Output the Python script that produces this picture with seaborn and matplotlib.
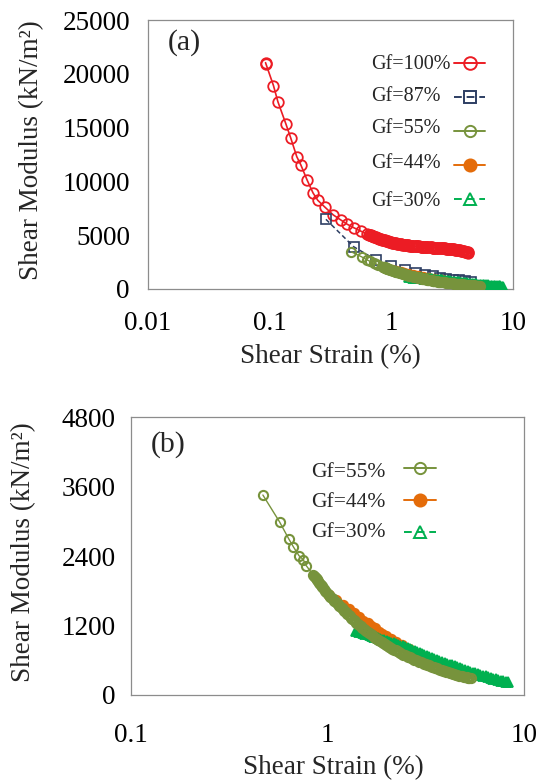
import matplotlib
matplotlib.use("Agg")
import matplotlib.pyplot as plt
import seaborn as sns
import pandas as pd
from matplotlib.lines import Line2D
from matplotlib.ticker import MultipleLocator, LogLocator, FixedLocator, FixedFormatter, NullFormatter

# ---------------- data ----------------
gf100_x = [0.0925, 0.093, 0.1075, 0.1168, 0.136, 0.1487, 0.167, 0.1805, 0.2036, 0.2274, 0.2487,
           0.2837, 0.3335, 0.385, 0.4305, 0.4903, 0.558,
           0.636, 0.650, 0.662, 0.675, 0.688, 0.700, 0.713, 0.726, 0.740, 0.754, 0.768, 0.782,
           0.797, 0.812, 0.828, 0.843, 0.859, 0.876, 0.892, 0.909, 0.927, 0.944, 0.962, 0.980,
           1.00, 1.02, 1.04, 1.06, 1.08, 1.10, 1.12, 1.14, 1.16, 1.19, 1.21, 1.23, 1.26, 1.28,
           1.31, 1.33, 1.36, 1.38, 1.41, 1.44, 1.46, 1.49, 1.52, 1.55, 1.58, 1.61, 1.64, 1.67,
           1.70, 1.74, 1.77, 1.80, 1.84, 1.87, 1.91, 1.94, 1.98, 2.02, 2.06, 2.10, 2.14, 2.18,
           2.22, 2.26, 2.31, 2.35, 2.40, 2.44, 2.49, 2.54, 2.59, 2.64, 2.69, 2.74, 2.79, 2.85,
           2.90, 2.96, 3.01, 3.07, 3.13, 3.19, 3.25, 3.31, 3.38, 3.44, 3.51, 3.58, 3.64, 3.72,
           3.79, 3.86, 3.93, 4.01, 4.09, 4.17, 4.25, 4.30]
gf100_y = [21035, 20950, 18900, 17410, 15335, 14065, 12300, 11525, 10100, 8920, 8240,
           7620, 6880, 6410, 6040, 5700, 5390,
           5080, 5050, 5010, 4980, 4950, 4910, 4880, 4850, 4820, 4790, 4760, 4720,
           4690, 4660, 4630, 4600, 4570, 4540, 4510, 4480, 4450, 4420, 4400, 4370,
           4340, 4320, 4290, 4270, 4250, 4230, 4210, 4190, 4170, 4160, 4140, 4130, 4110, 4100,
           4090, 4080, 4060, 4050, 4040, 4030, 4020, 4010, 4000, 3990, 3980, 3975, 3965, 3955,
           3950, 3940, 3935, 3930, 3920, 3915, 3905, 3900, 3890, 3885, 3875, 3870, 3860, 3855,
           3845, 3840, 3830, 3825, 3815, 3810, 3800, 3795, 3785, 3780, 3770, 3765, 3755, 3745,
           3740, 3730, 3720, 3710, 3700, 3690, 3675, 3665, 3650, 3635, 3620, 3605, 3590, 3570,
           3550, 3530, 3505, 3480, 3455, 3425, 3395, 3380]

gf87_x = [0.29, 0.49, 0.75, 1.0, 1.3, 1.6, 1.9, 2.2, 2.5, 2.8, 3.2, 3.6, 4.0, 4.5]
gf87_y = [6475, 3930, 2700, 2100, 1750, 1500, 1320, 1180, 1060, 960, 870, 790, 720, 640]

gf55_x = [0.469, 0.570, 0.636, 0.670, 0.716, 0.753, 0.779,
          0.847, 0.856, 0.865, 0.873, 0.880, 0.888, 0.895, 0.906, 0.915, 0.925, 0.933, 0.942,
          0.955, 0.970, 0.985, 1.000, 1.015, 1.030, 1.048, 1.067, 1.083, 1.100, 1.115, 1.130,
          1.150, 1.170, 1.185, 1.200, 1.220, 1.240, 1.260, 1.280, 1.300, 1.320, 1.340, 1.360,
          1.380, 1.400, 1.425, 1.450, 1.475, 1.500, 1.525, 1.550, 1.575, 1.600, 1.630, 1.660,
          1.690, 1.720, 1.750, 1.780, 1.815, 1.850, 1.885, 1.920, 1.955, 1.990, 2.025, 2.060,
          2.100, 2.140, 2.180, 2.220, 2.260, 2.300, 2.345, 2.390, 2.435, 2.480, 2.525, 2.570,
          2.620, 2.670, 2.720, 2.770, 2.825, 2.880, 2.935, 2.990, 3.045, 3.100, 3.160, 3.220,
          3.280, 3.340, 3.405, 3.470, 3.535, 3.600, 3.670, 3.740, 3.810, 3.880, 3.955, 4.030,
          4.105, 4.180, 4.260, 4.340, 4.420, 4.500, 4.585, 4.670, 4.760, 4.850, 4.940, 5.030,
          5.115, 5.200, 5.275, 5.350]
gf55_y = [3453, 2990, 2692, 2560, 2405, 2337, 2234,
          2073, 2055, 2040, 2020, 2005, 1985, 1970, 1936, 1920, 1900, 1880, 1861,
          1830, 1800, 1775, 1752, 1725, 1700, 1675, 1650, 1625, 1600, 1580, 1563,
          1540, 1520, 1495, 1478, 1455, 1430, 1405, 1380, 1357, 1335, 1312, 1290,
          1270, 1250, 1228, 1205, 1185, 1165, 1148, 1130, 1112, 1090, 1070, 1050,
          1030, 1010, 992, 975, 955, 935, 918, 900, 882, 865, 848, 830,
          815, 800, 785, 770, 755, 740, 725, 710, 697, 685, 672, 660,
          648, 635, 622, 610, 597, 585, 574, 563, 551, 540, 530, 520,
          510, 500, 490, 480, 470, 460, 450, 440, 430, 420, 412, 403,
          394, 385, 376, 368, 359, 350, 342, 335, 327, 320, 314, 308,
          303, 298, 295, 292]

gf44_x = [1.02, 1.10, 1.20, 1.28, 1.37, 1.45, 1.52, 1.60, 1.67, 1.74, 1.82, 1.90, 1.99,
          2.10, 2.24, 2.40, 2.60]
gf44_y = [1730, 1640, 1555, 1480, 1410, 1340, 1280, 1238, 1190, 1150, 1090, 1050, 1020,
          970, 920, 860, 800]

gf30_x = [1.40, 1.44, 1.48, 1.52, 1.56, 1.60, 1.64, 1.68, 1.72, 1.76, 1.80, 1.85, 1.90, 1.95,
          2.00, 2.05, 2.11, 2.17, 2.23, 2.29, 2.35, 2.42, 2.49, 2.56, 2.63, 2.70, 2.78, 2.86,
          2.94, 3.02, 3.11, 3.20, 3.30, 3.40, 3.50, 3.60, 3.71, 3.82, 3.94, 4.06, 4.18, 4.31,
          4.44, 4.58, 4.72, 4.86, 5.01, 5.16, 5.32, 5.48, 5.65, 5.82, 6.00, 6.18, 6.37, 6.56,
          6.76, 6.97, 7.18, 7.40, 7.62, 7.85, 8.08, 8.30]
gf30_y = [1100, 1090, 1080, 1068, 1058, 1048, 1035, 1022, 1010, 998, 986, 972, 958, 944,
          930, 918, 904, 890, 877, 865, 852, 838, 823, 808, 793, 778, 762, 746,
          730, 714, 697, 680, 662, 644, 627, 610, 593, 576, 559, 542, 526, 510,
          494, 478, 462, 447, 432, 417, 402, 388, 374, 360, 346, 333, 320, 307,
          295, 283, 271, 259, 248, 237, 226, 216]

ticks_a_x = [0.01, 0.1, 1, 10]
ticks_a_y = [0, 5000, 10000, 15000, 20000, 25000]
ticks_b_x = [0.1, 1, 10]
ticks_b_y = [0, 1200, 2400, 3600, 4800]

labels_a = ["Gf=100%", "Gf=87%", "Gf=55%", "Gf=44%", "Gf=30%"]
labels_b = ["Gf=55%", "Gf=44%", "Gf=30%"]

# ---------------- styles ----------------
RED = "#ec1c24"
NAVY = "#2d3e63"
OLIVE = "#77933c"
ORANGE = "#e46c0a"
GREEN = "#00b050"
SPINE = "#8c8c8c"

styles = {
    "Gf=100%": dict(color=RED, marker="o", ms=7.6, mfc="none", mec=RED, mew=1.3, ls="-", lw=1.2, z=2,
                    key_mfc="none"),
    "Gf=87%": dict(color=NAVY, marker="s", ms=7.0, mfc="none", mec=NAVY, mew=1.2, ls=(0, (3, 2)), lw=1.1, z=3,
                   key_mfc="none"),
    "Gf=44%": dict(color=ORANGE, marker="o", ms=7.2, mfc=ORANGE, mec=ORANGE, mew=1.0, ls="-", lw=1.1, z=4,
                   key_mfc=ORANGE),
    "Gf=30%": dict(color=GREEN, marker="^", ms=6.5, mfc=GREEN, mec=GREEN, mew=1.3, ls=(0, (3, 2)), lw=1.1, z=5,
                   key_mfc="none"),
    "Gf=55%": dict(color=OLIVE, marker="o", ms=6.6, mfc="none", mec=OLIVE, mew=1.5, ls="-", lw=1.0, z=6,
                   key_mfc="none"),
}
series = {
    "Gf=100%": (gf100_x, gf100_y),
    "Gf=87%": (gf87_x, gf87_y),
    "Gf=55%": (gf55_x, gf55_y),
    "Gf=44%": (gf44_x, gf44_y),
    "Gf=30%": (gf30_x, gf30_y),
}

sns.set_style("white")
plt.rcParams["font.family"] = ["Liberation Serif", "DejaVu Serif"]

fig = plt.figure(figsize=(5.44, 7.8), dpi=100)
axA = fig.add_axes([148 / 544, 1 - 289 / 780, 365 / 544, 269 / 780])
axB = fig.add_axes([131 / 544, 1 - 695 / 780, 393 / 544, 278 / 780])


def draw(ax, names):
    for name in ["Gf=100%", "Gf=87%", "Gf=44%", "Gf=30%", "Gf=55%"]:
        if name not in names:
            continue
        s = styles[name]
        x, y = series[name]
        df = pd.DataFrame({"x": x, "y": y})
        sns.lineplot(data=df, x="x", y="y", ax=ax, sort=False, estimator=None,
                     color=s["color"], marker=s["marker"], markersize=s["ms"],
                     markerfacecolor=s["mfc"], markeredgecolor=s["mec"],
                     markeredgewidth=s["mew"], linestyle=s["ls"], linewidth=s["lw"],
                     zorder=s["z"])


def style_axes(ax, xlim, xticks, xlabels, ylim, yticks, yminor, xpad, ypad):
    ax.set_xscale("log")
    ax.set_xlim(*xlim)
    ax.set_ylim(*ylim)
    ax.xaxis.set_major_locator(FixedLocator(xticks))
    ax.xaxis.set_major_formatter(FixedFormatter(xlabels))
    ax.xaxis.set_minor_locator(LogLocator(base=10, subs=[2, 3, 4, 5, 6, 7, 8, 9]))
    ax.xaxis.set_minor_formatter(NullFormatter())
    ax.yaxis.set_major_locator(FixedLocator(yticks))
    ax.yaxis.set_minor_locator(MultipleLocator(yminor))
    ax.tick_params(axis="both", which="both", direction="in", top=False, right=False,
                   color=SPINE, width=0.8, labelsize=19.5, labelcolor="black")
    ax.tick_params(axis="x", which="major", length=6, pad=xpad)
    ax.tick_params(axis="x", which="minor", length=4.5)
    ax.tick_params(axis="y", which="both", length=5, pad=ypad)
    for sp in ax.spines.values():
        sp.set_color(SPINE)
        sp.set_linewidth(0.9)
        sp.set_visible(True)
    ax.set_facecolor("white")


draw(axA, labels_a)
draw(axB, labels_b)

style_axes(axA, (0.01, 10), ticks_a_x, ["0.01", "0.1", "1", "10"], (0, 25000),
           ticks_a_y, 1000, 16, 13)
style_axes(axB, (0.1, 10), ticks_b_x, ["0.1", "1", "10"], (0, 4800),
           ticks_b_y, 240, 20, 11)

for ax, xl, yl in [(axA, (0.5, -0.253), (-0.32, 0.517)), (axB, (0.515, -0.263), (-0.272, 0.513))]:
    ax.set_xlabel("Shear Strain (%)", fontsize=19.5, va="center")
    ax.set_ylabel("Shear Modulus (kN/m\u00b2)", fontsize=19.5, va="center", ha="center")
    ax.xaxis.set_label_coords(*xl)
    ax.yaxis.set_label_coords(*yl)

axA.text(0.099, 0.915, "(a)", transform=axA.transAxes, fontsize=21.5, ha="center", va="center")
axB.text(0.095, 0.90, "(b)", transform=axB.transAxes, fontsize=21.5, ha="center", va="center")


def legend_keys(names):
    hs = []
    for name in names:
        s = styles[name]
        ls = s["ls"]
        if ls != "-":
            ls = (0, (4, 2.5))
        hs.append(Line2D([], [], color=s["color"], marker=s["marker"], markersize=s["ms"] + 1.5,
                         markerfacecolor=s["key_mfc"], markeredgecolor=s["mec"],
                         markeredgewidth=1.4, linestyle=ls, linewidth=1.4))
    return hs


# legend (a)
rows_a = [0.833, 0.714, 0.595, 0.468, 0.327]
for lab, yy in zip(labels_a, rows_a):
    axA.text(0.611, yy, lab, transform=axA.transAxes, fontsize=14.5, ha="left", va="center")
legA = axA.legend(legend_keys(labels_a), [""] * 5, loc="center", bbox_to_anchor=(0.882, 0.58),
                  frameon=False, handlelength=1.6, handletextpad=0, borderpad=0,
                  labelspacing=0.85, fontsize=14, borderaxespad=0)

# legend (b)
rows_b = [0.799, 0.691, 0.583]
for lab, yy in zip(labels_b, rows_b):
    axB.text(0.458, yy, lab, transform=axB.transAxes, fontsize=15.5, ha="left", va="center")
legB = axB.legend(legend_keys(labels_b), [""] * 3, loc="center", bbox_to_anchor=(0.735, 0.691),
                  frameon=False, handlelength=1.55, handletextpad=0, borderpad=0,
                  labelspacing=0.6, fontsize=15, borderaxespad=0)

fig.savefig("out.png", dpi=100, facecolor="white")
